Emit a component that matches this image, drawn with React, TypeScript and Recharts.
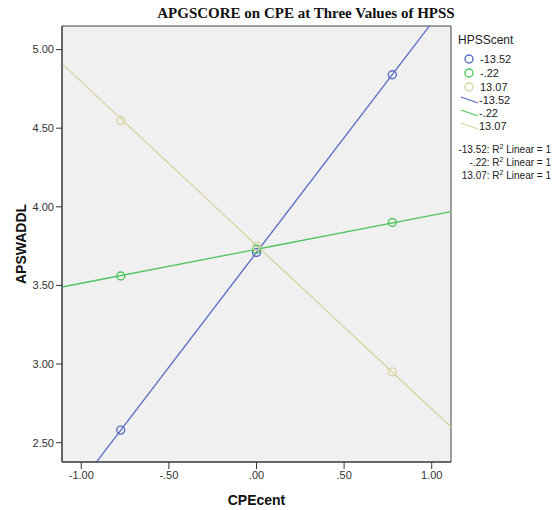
import React from "react";
import {
  ComposedChart,
  Line,
  Scatter,
  XAxis,
  YAxis,
  CartesianGrid,
  ReferenceArea,
  Label,
} from "recharts";

// values
const cpeValues = [-0.775, 0, 0.775];
const lowHpss = [2.58, 3.71, 4.84];
const midHpss = [3.56, 3.73, 3.9];
const highHpss = [4.55, 3.75, 2.95];

// fit lines, read at the left and right edges of the plot
const fitX = [-1.11, 1.11];
const lowFit = [2.09, 5.33];
const midFit = [3.49, 3.97];
const highFit = [4.91, 2.6];

const xTicks = [-1, -0.5, 0, 0.5, 1];
const yTicks = [2.5, 3, 3.5, 4, 4.5, 5];
const xDomain = [-1.11, 1.11];
const yDomain = [2.377, 5.15];

const groups = ["-13.52", "-.22", "13.07"];
const colors = ["#5a6ec4", "#4fc45e", "#d9d4a2"];

const toPoints = (ys: number[]) => cpeValues.map((x, i) => ({ x, y: ys[i] }));
const toLine = (ys: number[]) => fitX.map((x, i) => ({ x, y: ys[i] }));

const fmtX = (v: number) => v.toFixed(2).replace("0.", ".");
const fmtY = (v: number) => v.toFixed(2);

const font = "'Liberation Sans', Arial, sans-serif";
const tickStyle = { fontSize: 11, fill: "#333", fontFamily: font };

const ring = (color: string) => (props: any) => (
  <circle cx={props.cx} cy={props.cy} r={4} fill="none" stroke={color} strokeWidth={1.4} />
);

function Overlay() {
  return (
    <svg
      width={553}
      height={510}
      style={{ position: "absolute", left: 0, top: 0, pointerEvents: "none", overflow: "hidden" }}
    >
      <text
        x={306}
        y={18}
        textAnchor="middle"
        fontFamily="'Liberation Serif', 'Times New Roman', serif"
        fontWeight="bold"
        fontSize={15}
        fill="#111"
      >
        APGSCORE on CPE at Three Values of HPSS
      </text>
      <g fontFamily={font} fill="#222">
        <text x={458} y={44} fontSize={12}>HPSScent</text>
        {groups.map((g, i) => (
          <g key={"p" + g}>
            <circle cx={469} cy={59 + i * 14} r={4} fill="none" stroke={colors[i]} strokeWidth={1.4} />
            <text x={480} y={63 + i * 14} fontSize={11}>{g}</text>
          </g>
        ))}
        {groups.map((g, i) => (
          <g key={"l" + g}>
            <line
              x1={461}
              y1={97 + i * 13}
              x2={478}
              y2={103 + i * 13}
              stroke={colors[i]}
              strokeWidth={1.3}
            />
            <text x={479} y={104 + i * 13} fontSize={11}>{g}</text>
          </g>
        ))}
        {groups.map((g, i) => (
          <text key={"r" + g} x={551} y={153 + i * 13} fontSize={10} textAnchor="end">
            {g}: R<tspan dy={-4} fontSize={7}>2</tspan>
            <tspan dy={4}> Linear = 1</tspan>
          </text>
        ))}
      </g>
    </svg>
  );
}

export default function App() {
  const series = [lowHpss, midHpss, highHpss];
  const fits = [lowFit, midFit, highFit];
  return (
    <div style={{ position: "absolute", left: 0, top: 0, width: 553, height: 510, background: "#fff", overflow: "hidden" }}>
      <ComposedChart width={553} height={510} margin={{ top: 26, right: 102, left: 0, bottom: 0 }}>
        <CartesianGrid horizontal={false} vertical={false} fill="#f0f0f0" />
        <XAxis
          type="number"
          dataKey="x"
          domain={xDomain}
          allowDataOverflow
          ticks={xTicks}
          tickFormatter={fmtX}
          height={48}
          tick={tickStyle}
          tickSize={7}
          axisLine={{ stroke: "#333" }}
          tickLine={{ stroke: "#333" }}
        >
          <Label
            value="CPEcent"
            position="insideBottom"
            offset={5}
            style={{ fontSize: 14, fontWeight: "bold", fill: "#111", fontFamily: font }}
          />
        </XAxis>
        <YAxis
          type="number"
          dataKey="y"
          domain={yDomain}
          allowDataOverflow
          ticks={yTicks}
          tickFormatter={fmtY}
          width={62}
          tick={tickStyle}
          tickSize={6}
          axisLine={{ stroke: "#333" }}
          tickLine={{ stroke: "#333" }}
        >
          <Label
            content={(props: any) => {
              const vb = props.viewBox || { x: 0, y: 26, width: 62, height: 436 };
              const cx = 21;
              const cy = vb.y + vb.height / 2;
              return (
                <text
                  x={cx}
                  y={cy}
                  transform={`rotate(-90, ${cx}, ${cy})`}
                  textAnchor="middle"
                  dominantBaseline="central"
                  fontSize={14}
                  fontWeight="bold"
                  fill="#111"
                  fontFamily={font}
                >
                  APSWADDL
                </text>
              );
            }}
          />
        </YAxis>
        <ReferenceArea
          x1={xDomain[0]}
          x2={xDomain[1]}
          y1={yDomain[0]}
          y2={yDomain[1]}
          fill="none"
          stroke="#444"
          strokeWidth={1}
        />
        {fits.map((f, i) => (
          <Line
            key={"fit" + i}
            data={toLine(f)}
            dataKey="y"
            type="linear"
            stroke={colors[i]}
            strokeWidth={1.3}
            dot={false}
            isAnimationActive={false}
          />
        ))}
        {series.map((s, i) => (
          <Scatter
            key={"pts" + i}
            data={toPoints(s)}
            dataKey="y"
            shape={ring(colors[i])}
            isAnimationActive={false}
          />
        ))}
      </ComposedChart>
      <Overlay />
    </div>
  );
}
